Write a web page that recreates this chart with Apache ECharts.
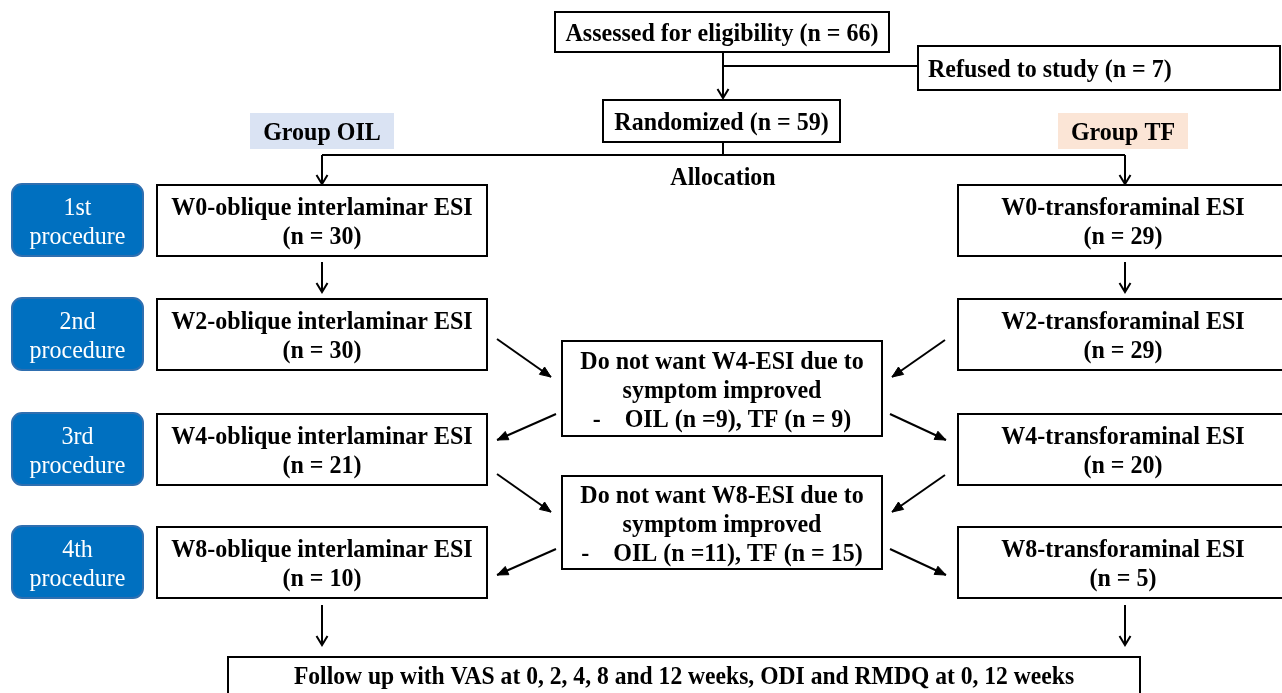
<!DOCTYPE html>
<html>
<head>
<meta charset="utf-8">
<script src="https://cdn.jsdelivr.net/npm/echarts@6/dist/echarts.min.js"></script>
<style>
  html, body { margin: 0; padding: 0; background: #fff; }
  #chart { width: 1282px; height: 693px; }
</style>
</head>
<body>
<div id="chart"></div>
<script>
// flow texts and counts
const screening = ['Assessed for eligibility (n = 66)', 'Randomized (n = 59)']
const refused = 'Refused to study (n = 7)'
const allocation = 'Allocation'
const groupNames = ['Group OIL', 'Group TF']
const procedures = ['1st', '2nd', '3rd', '4th']
const weeks = ['W0', 'W2', 'W4', 'W8']
const oilCounts = [30, 30, 21, 10]
const tfCounts = [29, 29, 20, 5]
const dropWeeks = ['W4', 'W8']
const dropOil = [9, 11]
const dropTf = [9, 15]
const followUp = 'Follow up with VAS at 0, 2, 4, 8 and 12 weeks, ODI and RMDQ at 0, 12 weeks'

// layout (canvas units)
const rowTop = [185, 299, 414, 527]
const rowH = 71
const dropBox = [[341, 436], [476, 569]]
const leftX = [157, 487]
const rightX = [958, 1288]

const FONT = 'Liberation Serif'
const FONT_SIZE = 24
const STRETCH = 1.06  // the source type is a bit taller than the font
const TEXT_DY = 2.5
const elements = []

function box(x0, y0, x1, y1, text, opt) {
  elements.push(Object.assign({ kind: 'box', x0, y0, x1, y1, text }, opt || {}))
}
function line(pts, head) {
  elements.push({ kind: 'line', pts, head })
}

box(555, 12, 889, 52, screening[0])
box(918, 46, 1280, 90, refused, { align: 'left', tx: 928 })
box(603, 100, 840, 142, screening[1])
box(250, 113, 394, 149, groupNames[0], { fill: '#dae3f3', stroke: null })
box(1058, 113, 1188, 149, groupNames[1], { fill: '#fbe5d6', stroke: null })
box(640, 160, 806, 192, allocation, { fill: null, stroke: null })

line([[723, 52], [723, 98]], 'open')
line([[723, 66], [918, 66]])
line([[723, 142], [723, 155]])
line([[322, 155], [1125, 155]])
line([[322, 155], [322, 184]], 'open')
line([[1125, 155], [1125, 184]], 'open')

procedures.forEach((p, i) => {
  const t = rowTop[i]
  box(12, t - 1, 143, t + rowH, p + '\nprocedure',
    { fill: '#0070c0', stroke: '#2f6fb0', r: 10, color: '#fff', weight: 'normal' })
  box(leftX[0], t, leftX[1], t + rowH,
    weeks[i] + '-oblique interlaminar ESI\n(n = ' + oilCounts[i] + ')')
  box(rightX[0], t, rightX[1], t + rowH,
    weeks[i] + '-transforaminal ESI\n(n = ' + tfCounts[i] + ')', { tx: 1123 })
})

line([[322, 262], [322, 292]], 'open')
line([[1125, 262], [1125, 292]], 'open')
line([[322, 605], [322, 645]], 'open')
line([[1125, 605], [1125, 645]], 'open')

dropWeeks.forEach((w, i) => {
  const [y0, y1] = dropBox[i]
  box(562, y0, 882, y1,
    'Do not want ' + w + '-ESI due to\nsymptom improved\n-    OIL (n =' + dropOil[i] + '), TF (n = ' + dropTf[i] + ')')
  const a = y0 - 2, b = y0 + 73
  line([[497, a], [551, a + 38]], 'fill')
  line([[556, b], [497, b + 26]], 'fill')
  line([[945, a + 1], [892, a + 38]], 'fill')
  line([[890, b], [946, b + 26]], 'fill')
})

box(228, 657, 1140, 705, followUp, { ty: 675, size: 23.6 })

function arrowHead(e, prev, kind) {
  const dx = e[0] - prev[0], dy = e[1] - prev[1]
  const len = Math.sqrt(dx * dx + dy * dy)
  const ux = dx / len, uy = dy / len
  const L = kind === 'open' ? 9 : 11
  const W = kind === 'open' ? 5.5 : 4.5
  const bx = e[0] - ux * L, by = e[1] - uy * L
  return [[bx - uy * W, by + ux * W], e, [bx + uy * W, by - ux * W]]
}

function renderItem(params, api) {
  const el = elements[params.dataIndex]
  if (el.kind === 'box') {
    const a = api.coord([el.x0, el.y0])
    const b = api.coord([el.x1, el.y1])
    const cx = el.tx !== undefined ? api.coord([el.tx, 0])[0] : (a[0] + b[0]) / 2
    const cy = el.ty !== undefined ? api.coord([0, el.ty])[1] : (a[1] + b[1]) / 2
    return {
      type: 'group',
      children: [{
        type: 'rect',
        shape: { x: a[0], y: a[1], width: b[0] - a[0], height: b[1] - a[1], r: el.r || 0 },
        style: {
          fill: el.fill === undefined ? '#fff' : (el.fill || 'none'),
          stroke: el.stroke === undefined ? '#000' : (el.stroke || 'none'),
          lineWidth: 2
        }
      }, {
        type: 'text',
        x: cx,
        y: cy + TEXT_DY,
        scaleY: STRETCH,
        style: {
          text: el.text,
          x: 0,
          y: 0,
          align: el.align || 'center',
          verticalAlign: 'middle',
          fontFamily: FONT,
          fontWeight: el.weight || 'bold',
          fontSize: el.size || FONT_SIZE,
          lineHeight: 29 / STRETCH,
          fill: el.color || '#000'
        }
      }]
    }
  }
  const pts = el.pts.map(p => api.coord(p))
  const children = [{
    type: 'polyline',
    shape: { points: pts },
    style: { stroke: '#000', lineWidth: 2, fill: null }
  }]
  if (el.head) {
    const h = arrowHead(pts[pts.length - 1], pts[pts.length - 2], el.head)
    if (el.head === 'open') {
      children.push({ type: 'polyline', shape: { points: h }, style: { stroke: '#000', lineWidth: 2, fill: null } })
    } else {
      children.push({ type: 'polygon', shape: { points: h }, style: { fill: '#000', stroke: '#000', lineWidth: 1 } })
    }
  }
  return { type: 'group', children }
}

const chart = echarts.init(document.getElementById('chart'))
chart.setOption({
  animation: false,
  grid: { left: 0, right: 0, top: 0, bottom: 0 },
  xAxis: { type: 'value', min: 0, max: 1282, show: false },
  yAxis: { type: 'value', min: 0, max: 693, inverse: true, show: false },
  series: [{
    type: 'custom',
    clip: false,
    renderItem,
    data: elements.map((e, i) => [i, 0])
  }]
})
</script>
</body>
</html>
